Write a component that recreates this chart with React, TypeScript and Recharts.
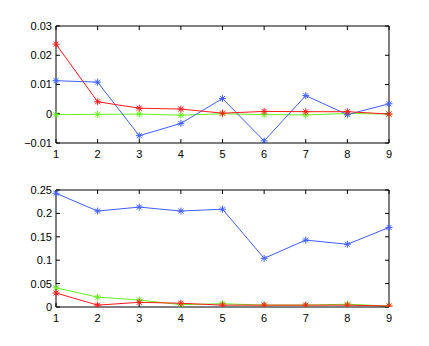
import React from "react";
import { LineChart, Line, XAxis, YAxis } from "recharts";

const xs = [1, 2, 3, 4, 5, 6, 7, 8, 9];
const topRed = [0.0238, 0.0041, 0.0019, 0.0016, 0.0002, 0.0008, 0.0007, 0.0007, -0.0001];
const topBlue = [0.0113, 0.0108, -0.0075, -0.0033, 0.0052, -0.0093, 0.0062, -0.0003, 0.0034];
const topGreen = [-0.0003, -0.0002, -0.0001, -0.0005, 0.0, -0.0003, -0.0004, 0.0001, -0.0001];
const botBlue = [0.243, 0.205, 0.2135, 0.205, 0.209, 0.104, 0.143, 0.134, 0.17];
const botGreen = [0.041, 0.021, 0.015, 0.005, 0.007, 0.004, 0.004, 0.006, 0.002];
const botRed = [0.03, 0.004, 0.01, 0.008, 0.004, 0.004, 0.004, 0.004, 0.002];
const xTicks = [1, 2, 3, 4, 5, 6, 7, 8, 9];
const topYTicks = [-0.01, 0, 0.01, 0.02, 0.03];
const botYTicks = [0, 0.05, 0.1, 0.15, 0.2, 0.25];

const RED = "#ff1a1a";
const BLUE = "#4060ff";
const GREEN = "#66ee22";

const topData = xs.map((x, i) => ({ x, r: topRed[i], b: topBlue[i], g: topGreen[i] }));
const botData = xs.map((x, i) => ({ x, r: botRed[i], b: botBlue[i], g: botGreen[i] }));

const Star = (color: string) => (props: any) => {
  const { cx, cy } = props;
  if (cx == null || cy == null) return null;
  const s = 3.5;
  const d = 2.5;
  return (
    <g stroke={color} strokeWidth={1}>
      <line x1={cx - s} y1={cy} x2={cx + s} y2={cy} />
      <line x1={cx} y1={cy - s} x2={cx} y2={cy + s} />
      <line x1={cx - d} y1={cy - d} x2={cx + d} y2={cy + d} />
      <line x1={cx - d} y1={cy + d} x2={cx + d} y2={cy - d} />
    </g>
  );
};

const fmt = (v: number) => (v === 0 ? "0" : v < 0 ? "\u2212" + String(Math.abs(v)) : String(v));
const tickStyle = { fontSize: 11, fill: "#000", fontFamily: "Liberation Sans, Arial, sans-serif" };
const noLabel = () => null;

function Panel({ data, yTicks, domain, height, margin }: any) {
  return (
    <LineChart width={429} height={height} data={data} margin={margin}>
      <XAxis
        xAxisId="b"
        dataKey="x"
        type="number"
        domain={[1, 9]}
        ticks={xTicks}
        tickSize={-4}
        tickMargin={11}
        height={20}
        stroke="#000"
        tick={tickStyle}
        interval={0}
      />
      <XAxis
        xAxisId="t"
        orientation="top"
        dataKey="x"
        type="number"
        domain={[1, 9]}
        ticks={xTicks}
        tickSize={-4}
        tick={noLabel}
        height={1}
        stroke="#000"
        interval={0}
      />
      <YAxis
        yAxisId="l"
        type="number"
        domain={domain}
        ticks={yTicks}
        tickSize={-4}
        tickMargin={8}
        width={56}
        stroke="#000"
        tick={tickStyle}
        tickFormatter={fmt}
        interval={0}
        allowDataOverflow
      />
      <YAxis
        yAxisId="r"
        orientation="right"
        type="number"
        domain={domain}
        ticks={yTicks}
        tickSize={-4}
        tick={noLabel}
        width={1}
        stroke="#000"
        interval={0}
        allowDataOverflow
      />
      <Line xAxisId="b" yAxisId="l" dataKey="g" stroke={GREEN} strokeWidth={1} dot={Star(GREEN)} isAnimationActive={false} />
      <Line xAxisId="b" yAxisId="l" dataKey="b" stroke={BLUE} strokeWidth={1} dot={Star(BLUE)} isAnimationActive={false} />
      <Line xAxisId="b" yAxisId="l" dataKey="r" stroke={RED} strokeWidth={1} dot={Star(RED)} isAnimationActive={false} />
    </LineChart>
  );
}

export default function App() {
  return (
    <div style={{ position: "absolute", left: 0, top: 0, width: 429, height: 346, background: "#fff" }}>
      <div style={{ position: "absolute", left: 0, top: 0 }}>
        <Panel data={topData} yTicks={topYTicks} domain={[-0.01, 0.03]} height={170} margin={{ top: 25, right: 39, left: 0, bottom: 7 }} />
      </div>
      <div style={{ position: "absolute", left: 0, top: 170 }}>
        <Panel data={botData} yTicks={botYTicks} domain={[0, 0.25]} height={176} margin={{ top: 19, right: 39, left: 0, bottom: 19 }} />
      </div>
    </div>
  );
}
